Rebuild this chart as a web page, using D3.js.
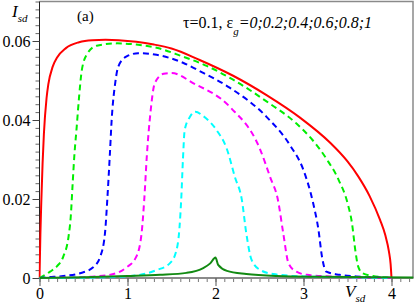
<!DOCTYPE html>
<html>
<head>
<meta charset="utf-8">
<script src="https://cdn.jsdelivr.net/npm/d3@7"></script>
<style>
  body { margin: 0; background: #fff; }
  svg { display: block; }
  svg text { font-family: "Liberation Serif", "Times New Roman", serif; }
</style>
</head>
<body>
<div id="chart"></div>
<script>
// curve data: [V_sd, I_sd]
const eps0 = [[0,0],[0.01,0.011],[0.02,0.019],[0.035,0.029],[0.05,0.0365],[0.08,0.0455],[0.1,0.049],[0.15,0.0535],[0.2,0.0558],[0.3,0.0582],[0.45,0.0597],[0.6,0.0602],[0.75,0.0603],[0.9,0.0602],[1.1,0.0598],[1.3,0.0591],[1.5,0.0581],[1.82,0.0552],[2.2,0.0512],[2.58,0.0463],[2.96,0.0406],[3.3,0.0343],[3.5,0.0295],[3.62,0.0258],[3.75,0.0208],[3.87,0.0147],[3.93,0.0108],[3.97,0.0068],[3.99,0.0035],[4.0,0]];
const eps02 = [[0,0],[0.12,0.0016],[0.2,0.003],[0.27,0.0054],[0.33,0.0105],[0.355,0.0155],[0.377,0.024],[0.396,0.031],[0.42,0.0375],[0.45,0.0459],[0.48,0.0525],[0.54,0.0567],[0.65,0.0588],[0.88,0.0594],[1.1,0.0591],[1.33,0.0583],[1.6,0.0563],[1.9,0.0537],[2.2,0.0502],[2.58,0.0447],[2.92,0.0391],[3.1,0.035],[3.26,0.0302],[3.4,0.0248],[3.5,0.019],[3.55,0.014],[3.59,0.0068],[3.62,0.003],[3.67,0.0012],[3.79,0.0005],[3.9,0.0002],[4.0,0]];
const eps04 = [[0,0],[0.1,0.0002],[0.27,0.0005],[0.46,0.0012],[0.61,0.0027],[0.69,0.0054],[0.744,0.0113],[0.77,0.0197],[0.8,0.0315],[0.82,0.04],[0.86,0.0493],[0.895,0.0535],[0.99,0.0561],[1.12,0.0569],[1.33,0.0565],[1.63,0.0545],[1.82,0.0524],[2.16,0.0482],[2.58,0.0408],[2.85,0.0335],[3.0,0.0273],[3.11,0.0189],[3.17,0.0122],[3.21,0.0054],[3.26,0.0016],[3.41,0.0008],[3.6,0.0004],[3.9,0.0001],[4.0,0]];
const eps06 = [[0,0],[0.3,0.0001],[0.57,0.0003],[0.84,0.001],[0.99,0.0027],[1.1,0.0054],[1.16,0.0113],[1.19,0.0197],[1.22,0.031],[1.26,0.0417],[1.31,0.0493],[1.41,0.0517],[1.5,0.0519],[1.75,0.0493],[2.16,0.0434],[2.51,0.0324],[2.62,0.0256],[2.71,0.0197],[2.77,0.0113],[2.83,0.0037],[2.92,0.0016],[3.04,0.0008],[3.3,0.0004],[3.7,0.0001],[4.0,0]];
const eps08 = [[0,0],[0.6,0.0001],[1.03,0.0005],[1.33,0.002],[1.48,0.0037],[1.55,0.0065],[1.59,0.0125],[1.61,0.0197],[1.63,0.03],[1.65,0.0375],[1.71,0.0408],[1.77,0.0421],[1.86,0.041],[2.01,0.0375],[2.13,0.0326],[2.22,0.0256],[2.3,0.0197],[2.35,0.0113],[2.41,0.0046],[2.51,0.002],[2.66,0.001],[3.0,0.0004],[3.5,0.0002],[4.0,0]];
const eps1 = [[0,0],[0.5,0.0002],[1.0,0.0005],[1.37,0.0008],[1.67,0.0013],[1.86,0.0025],[1.94,0.0037],[2.0,0.0052],[2.03,0.0033],[2.13,0.0018],[2.35,0.001],[2.7,0.0005],[3.2,0.0003],[3.8,0.0002],[4.25,0.0001]];

const xTicks = [0, 1, 2, 3, 4];
const yTicks = [0, 0.02, 0.04, 0.06];

// series drawing styles
const series = [
    { data: eps0,  color: '#ff0000', dash: null },
    { data: eps02, color: '#00ee00', dash: '6,4' },
    { data: eps04, color: '#0000ff', dash: '6,4' },
    { data: eps06, color: '#ff00ff', dash: '6,4' },
    { data: eps08, color: '#00ffff', dash: '6,4' },
    { data: eps1,  color: '#128a12', dash: null }
];

const W = 415, H = 306;
const m = { left: 39.5, right: 413.5, bottom: 278, top: 1.5 };
const serif = '"Liberation Serif", "Times New Roman", serif';

const svg = d3.select('#chart').append('svg')
    .attr('width', W).attr('height', H)
    .attr('font-family', serif);

const x = d3.scaleLinear().domain([0, 4.25]).range([m.left, m.right]);
const y = d3.scaleLinear().domain([0, 0.07]).range([m.bottom, m.top]);

// frame (top + right)
svg.append('path')
    .attr('d', `M${m.left},${m.top}H${m.right - 0.5}V${m.bottom}`)
    .attr('fill', 'none')
    .attr('stroke', '#8a8a8a')
    .attr('stroke-width', 1.5);

// minor ticks
svg.append('g')
    .attr('transform', `translate(0,${m.bottom})`)
    .call(d3.axisBottom(x).tickValues(d3.range(0, 4.25, 0.1)).tickSize(4).tickFormat(''))
    .call(g => g.select('.domain').remove())
    .call(g => g.selectAll('line').attr('stroke', '#777'));

svg.append('g')
    .attr('transform', `translate(${m.left},0)`)
    .call(d3.axisLeft(y).tickValues(d3.range(0, 0.0701, 0.002)).tickSize(4).tickFormat(''))
    .call(g => g.select('.domain').remove())
    .call(g => g.selectAll('line').attr('stroke', '#666'));

// major ticks + labels
const xAxis = svg.append('g')
    .attr('transform', `translate(0,${m.bottom})`)
    .call(d3.axisBottom(x).tickValues(xTicks).tickSize(8).tickPadding(2).tickFormat(d3.format('d')));
xAxis.attr('font-family', serif);
xAxis.select('.domain').attr('stroke', '#8a8a8a').attr('stroke-width', 2).attr('d', `M${m.left},0H${m.right}`);
xAxis.selectAll('line').attr('stroke', '#555');
xAxis.selectAll('text').attr('font-size', '16px').attr('fill', '#000');

const yAxis = svg.append('g')
    .attr('transform', `translate(${m.left},0)`)
    .call(d3.axisLeft(y).tickValues(yTicks).tickSize(7).tickPadding(2)
        .tickFormat(d => d === 0 ? '0' : d3.format('.2f')(d)));
yAxis.attr('font-family', serif);
yAxis.select('.domain').attr('stroke', '#222').attr('stroke-width', 1).attr('d', `M0,${m.bottom}V${m.top}`);
yAxis.selectAll('line').attr('stroke', '#444');
yAxis.selectAll('text').attr('font-size', '16px').attr('fill', '#000');

// clip + curves
svg.append('clipPath').attr('id', 'plot')
    .append('rect').attr('x', m.left - 1).attr('y', m.top).attr('width', m.right - m.left + 1).attr('height', m.bottom - m.top + 1);

const line = d3.line()
    .x(d => x(d[0]))
    .y(d => y(d[1]))
    .curve(d3.curveMonotoneX);

svg.append('g').attr('clip-path', 'url(#plot)')
    .selectAll('path')
    .data(series)
    .enter()
    .append('path')
    .attr('d', d => line(d.data))
    .attr('fill', 'none')
    .attr('stroke', d => d.color)
    .attr('stroke-width', 2)
    .attr('stroke-dasharray', d => d.dash);

// axis titles
const iLab = svg.append('text').attr('x', 12).attr('y', 17).attr('font-size', '17px').attr('font-style', 'italic');
iLab.append('tspan').text('I');
iLab.append('tspan').attr('dy', 5).attr('font-size', '11px').text('sd');

const vLab = svg.append('text').attr('x', 345).attr('y', 297).attr('font-size', '17px').attr('font-style', 'italic');
vLab.append('tspan').text('V');
vLab.append('tspan').attr('dy', 5).attr('font-size', '11px').text('sd');

svg.append('text').attr('x', 77).attr('y', 21).attr('font-size', '15px').text('(a)');

const note = svg.append('text').attr('x', 183).attr('y', 28).attr('font-size', '16px');
note.append('tspan').text('τ=0.1,  ε');
note.append('tspan').attr('dy', 7).attr('font-size', '11px').attr('font-style', 'italic').text('g');
note.append('tspan').attr('dy', -7).attr('font-style', 'italic').text('=0;0.2;0.4;0.6;0.8;1');
</script>
</body>
</html>
